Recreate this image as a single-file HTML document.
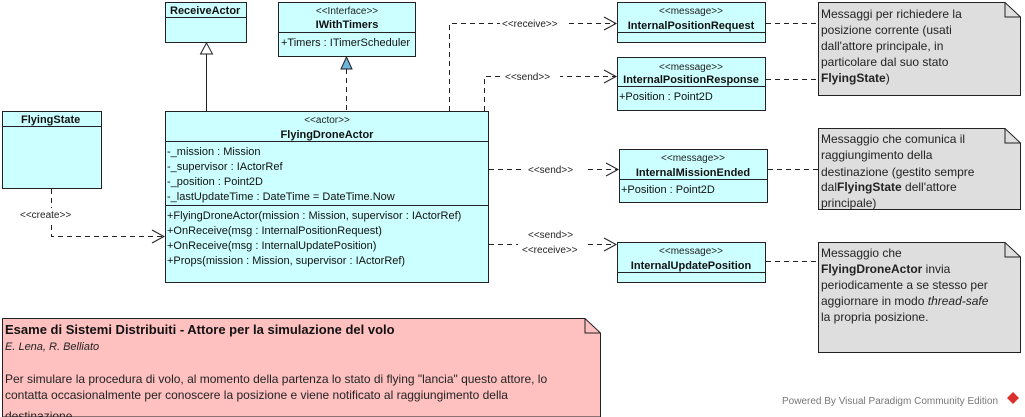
<!DOCTYPE html>
<html><head><meta charset="utf-8"><style>
html,body{margin:0;padding:0;background:#fff;width:1025px;height:417px;overflow:hidden}
svg{display:block;font-family:"Liberation Sans",Arial,sans-serif}
.t{font-size:11px;fill:#111}
.b{font-size:11px;font-weight:bold;fill:#111}
.n{font-size:12px;fill:#222}
.nb{font-size:12px;font-weight:bold;fill:#222}
.box{fill:#ccffff;stroke:#222;stroke-width:1}
.ln{stroke:#222;stroke-width:1;fill:none}
.dash{stroke:#222;stroke-width:1;fill:none;stroke-dasharray:5,4}
.lab{font-size:10px;fill:#222}
</style></head><body>
<svg width="1025" height="417" viewBox="0 0 1025 417">
<rect class="box" x="165.5" y="2.5" width="81" height="40"/>
<line class="ln" x1="165.5" y1="17.5" x2="246.5" y2="17.5"/>
<text class="b" x="170" y="14">ReceiveActor</text>
<rect class="box" x="278.5" y="2.5" width="137" height="54"/>
<line class="ln" x1="278.5" y1="32.5" x2="415.5" y2="32.5"/>
<text class="lab" x="347" y="14" text-anchor="middle">&lt;&lt;Interface&gt;&gt;</text>
<text class="b" x="347" y="28" text-anchor="middle">IWithTimers</text>
<text class="t" x="281" y="46">+Timers : ITimerScheduler</text>
<line class="ln" x1="206.5" y1="54" x2="206.5" y2="111"/>
<polygon points="206.5,43 200.5,54 212.5,54" fill="#fff" stroke="#222"/>
<line class="dash" x1="346.5" y1="69" x2="346.5" y2="111"/>
<polygon points="346.5,57 341,69 352,69" fill="#6fb5e0" stroke="#222"/>
<rect class="box" x="2.5" y="111.5" width="99" height="77"/>
<line class="ln" x1="2.5" y1="126.5" x2="101.5" y2="126.5"/>
<text class="b" x="21" y="123">FlyingState</text>
<polyline class="dash" points="51.5,189 51.5,236.5 164,236.5"/>
<polyline class="ln" points="152,230 164,236.5 152,243"/>
<rect x="18" y="208" width="60" height="13" fill="#fff"/>
<text class="lab" x="20" y="218">&lt;&lt;create&gt;&gt;</text>
<rect class="box" x="165.5" y="111.5" width="323" height="171"/>
<line class="ln" x1="165.5" y1="141.5" x2="488.5" y2="141.5"/>
<line class="ln" x1="165.5" y1="205.5" x2="488.5" y2="205.5"/>
<text class="lab" x="327" y="123" text-anchor="middle">&lt;&lt;actor&gt;&gt;</text>
<text class="b" x="327" y="138" text-anchor="middle">FlyingDroneActor</text>
<text class="t" x="167" y="155">-_mission : Mission</text>
<text class="t" x="167" y="170">-_supervisor : IActorRef</text>
<text class="t" x="167" y="185">-_position : Point2D</text>
<text class="t" x="167" y="200">-_lastUpdateTime : DateTime = DateTime.Now</text>
<text class="t" x="167" y="219">+FlyingDroneActor(mission : Mission, supervisor : IActorRef)</text>
<text class="t" x="167" y="234">+OnReceive(msg : InternalPositionRequest)</text>
<text class="t" x="167" y="249">+OnReceive(msg : InternalUpdatePosition)</text>
<text class="t" x="167" y="264">+Props(mission : Mission, supervisor : IActorRef)</text>
<polyline class="dash" points="449.5,111 449.5,23.5 616,23.5"/>
<polyline class="ln" points="604,17 616,23.5 604,30"/>
<rect x="500" y="17" width="66" height="12" fill="#fff"/>
<text class="lab" x="502" y="27">&lt;&lt;receive&gt;&gt;</text>
<polyline class="dash" points="484.5,111 484.5,76.5 616,76.5"/>
<polyline class="ln" points="604,70 616,76.5 604,83"/>
<rect x="500" y="70" width="60" height="12" fill="#fff"/>
<text class="lab" x="505" y="80">&lt;&lt;send&gt;&gt;</text>
<line class="dash" x1="489" y1="169.5" x2="618" y2="169.5"/>
<polyline class="ln" points="606,163 618,169.5 606,176"/>
<rect x="522" y="163" width="62" height="12" fill="#fff"/>
<text class="lab" x="528" y="173">&lt;&lt;send&gt;&gt;</text>
<line class="dash" x1="489" y1="244.5" x2="616" y2="244.5"/>
<polyline class="ln" points="604,238 616,244.5 604,251"/>
<rect x="518" y="228" width="70" height="26" fill="#fff"/>
<text class="lab" x="528" y="238">&lt;&lt;send&gt;&gt;</text>
<text class="lab" x="522" y="253">&lt;&lt;receive&gt;&gt;</text>
<rect class="box" x="617.5" y="2.5" width="148" height="40"/>
<line class="ln" x1="617.5" y1="32.5" x2="765.5" y2="32.5"/>
<text class="lab" x="691" y="14" text-anchor="middle">&lt;&lt;message&gt;&gt;</text>
<text class="b" x="691" y="29" text-anchor="middle">InternalPositionRequest</text>
<rect class="box" x="617.5" y="57.5" width="148" height="53"/>
<line class="ln" x1="617.5" y1="86.5" x2="765.5" y2="86.5"/>
<text class="lab" x="691" y="70" text-anchor="middle">&lt;&lt;message&gt;&gt;</text>
<text class="b" x="691" y="83" text-anchor="middle">InternalPositionResponse</text>
<text class="t" x="619" y="100">+Position : Point2D</text>
<rect class="box" x="619.5" y="149.5" width="148" height="53"/>
<line class="ln" x1="619.5" y1="179.5" x2="767.5" y2="179.5"/>
<text class="lab" x="693" y="161" text-anchor="middle">&lt;&lt;message&gt;&gt;</text>
<text class="b" x="693" y="176" text-anchor="middle">InternalMissionEnded</text>
<text class="t" x="621" y="193">+Position : Point2D</text>
<rect class="box" x="617.5" y="242.5" width="148" height="40"/>
<line class="ln" x1="617.5" y1="272.5" x2="765.5" y2="272.5"/>
<text class="lab" x="691" y="254" text-anchor="middle">&lt;&lt;message&gt;&gt;</text>
<text class="b" x="691" y="269" text-anchor="middle">InternalUpdatePosition</text>
<line class="dash" x1="766" y1="23.5" x2="818" y2="23.5"/>
<line class="dash" x1="766" y1="79.5" x2="818" y2="79.5"/>
<line class="dash" x1="768" y1="169.5" x2="818" y2="169.5"/>
<line class="dash" x1="766" y1="261.5" x2="818" y2="261.5"/>
<polygon points="818.5,2.5 1005,2.5 1020.5,17 1020.5,95.5 818.5,95.5" fill="#dedede" stroke="#222"/>
<polyline class="ln" points="1005,2.5 1005,17 1020.5,17"/>
<text class="n" x="821" y="18">Messaggi per richiedere la</text>
<text class="n" x="821" y="34">posizione corrente (usati</text>
<text class="n" x="821" y="50">dall'attore principale, in</text>
<text class="n" x="821" y="66">particolare dal suo stato</text>
<text class="n" x="821" y="82"><tspan class="nb">FlyingState</tspan>)</text>
<polygon points="818.5,128.5 1005,128.5 1020.5,143 1020.5,209.5 818.5,209.5" fill="#dedede" stroke="#222"/>
<polyline class="ln" points="1005,128.5 1005,143 1020.5,143"/>
<text class="n" x="821" y="143">Messaggio che comunica il</text>
<text class="n" x="821" y="159">raggiungimento della</text>
<text class="n" x="821" y="176">destinazione (gestito sempre</text>
<text class="n" x="821" y="191">dal<tspan class="nb">FlyingState</tspan> dell'attore</text>
<text class="n" x="821" y="207">principale)</text>
<polygon points="818.5,242.5 1005,242.5 1020.5,257 1020.5,352.5 818.5,352.5" fill="#dedede" stroke="#222"/>
<polyline class="ln" points="1005,242.5 1005,257 1020.5,257"/>
<text class="n" x="821" y="257">Messaggio che</text>
<text class="n" x="821" y="273"><tspan class="nb">FlyingDroneActor</tspan> invia</text>
<text class="n" x="821" y="289">periodicamente a se stesso per</text>
<text class="n" x="821" y="305">aggiornare in modo <tspan font-style="italic">thread-safe</tspan></text>
<text class="n" x="821" y="321">la propria posizione.</text>
<polygon points="2.5,318.5 585,318.5 600.5,333 600.5,417 2.5,417" fill="#ffc0c0" stroke="#222"/>
<polyline class="ln" points="585,318.5 585,333 600.5,333"/>
<text x="5" y="334" style="font-size:13px;font-weight:bold;fill:#111">Esame di Sistemi Distribuiti - Attore per la simulazione del volo</text>
<text x="5" y="350" style="font-size:11px;font-style:italic;fill:#222">E. Lena, R. Belliato</text>
<text x="5" y="383" style="font-size:12px;fill:#222">Per simulare la procedura di volo, al momento della partenza lo stato di flying "lancia" questo attore, lo</text>
<text x="5" y="399" style="font-size:12px;fill:#222">contatta occasionalmente per conoscere la posizione e viene notificato al raggiungimento della</text>
<text x="5" y="420" style="font-size:12px;fill:#222">destinazione.</text>
<text x="782" y="404" style="font-size:10px;fill:#777">Powered By  Visual Paradigm Community Edition</text>
<polygon points="1013,392 1019,398 1013,404 1007,398" fill="#d9302c"/>
</svg>
</body></html>
